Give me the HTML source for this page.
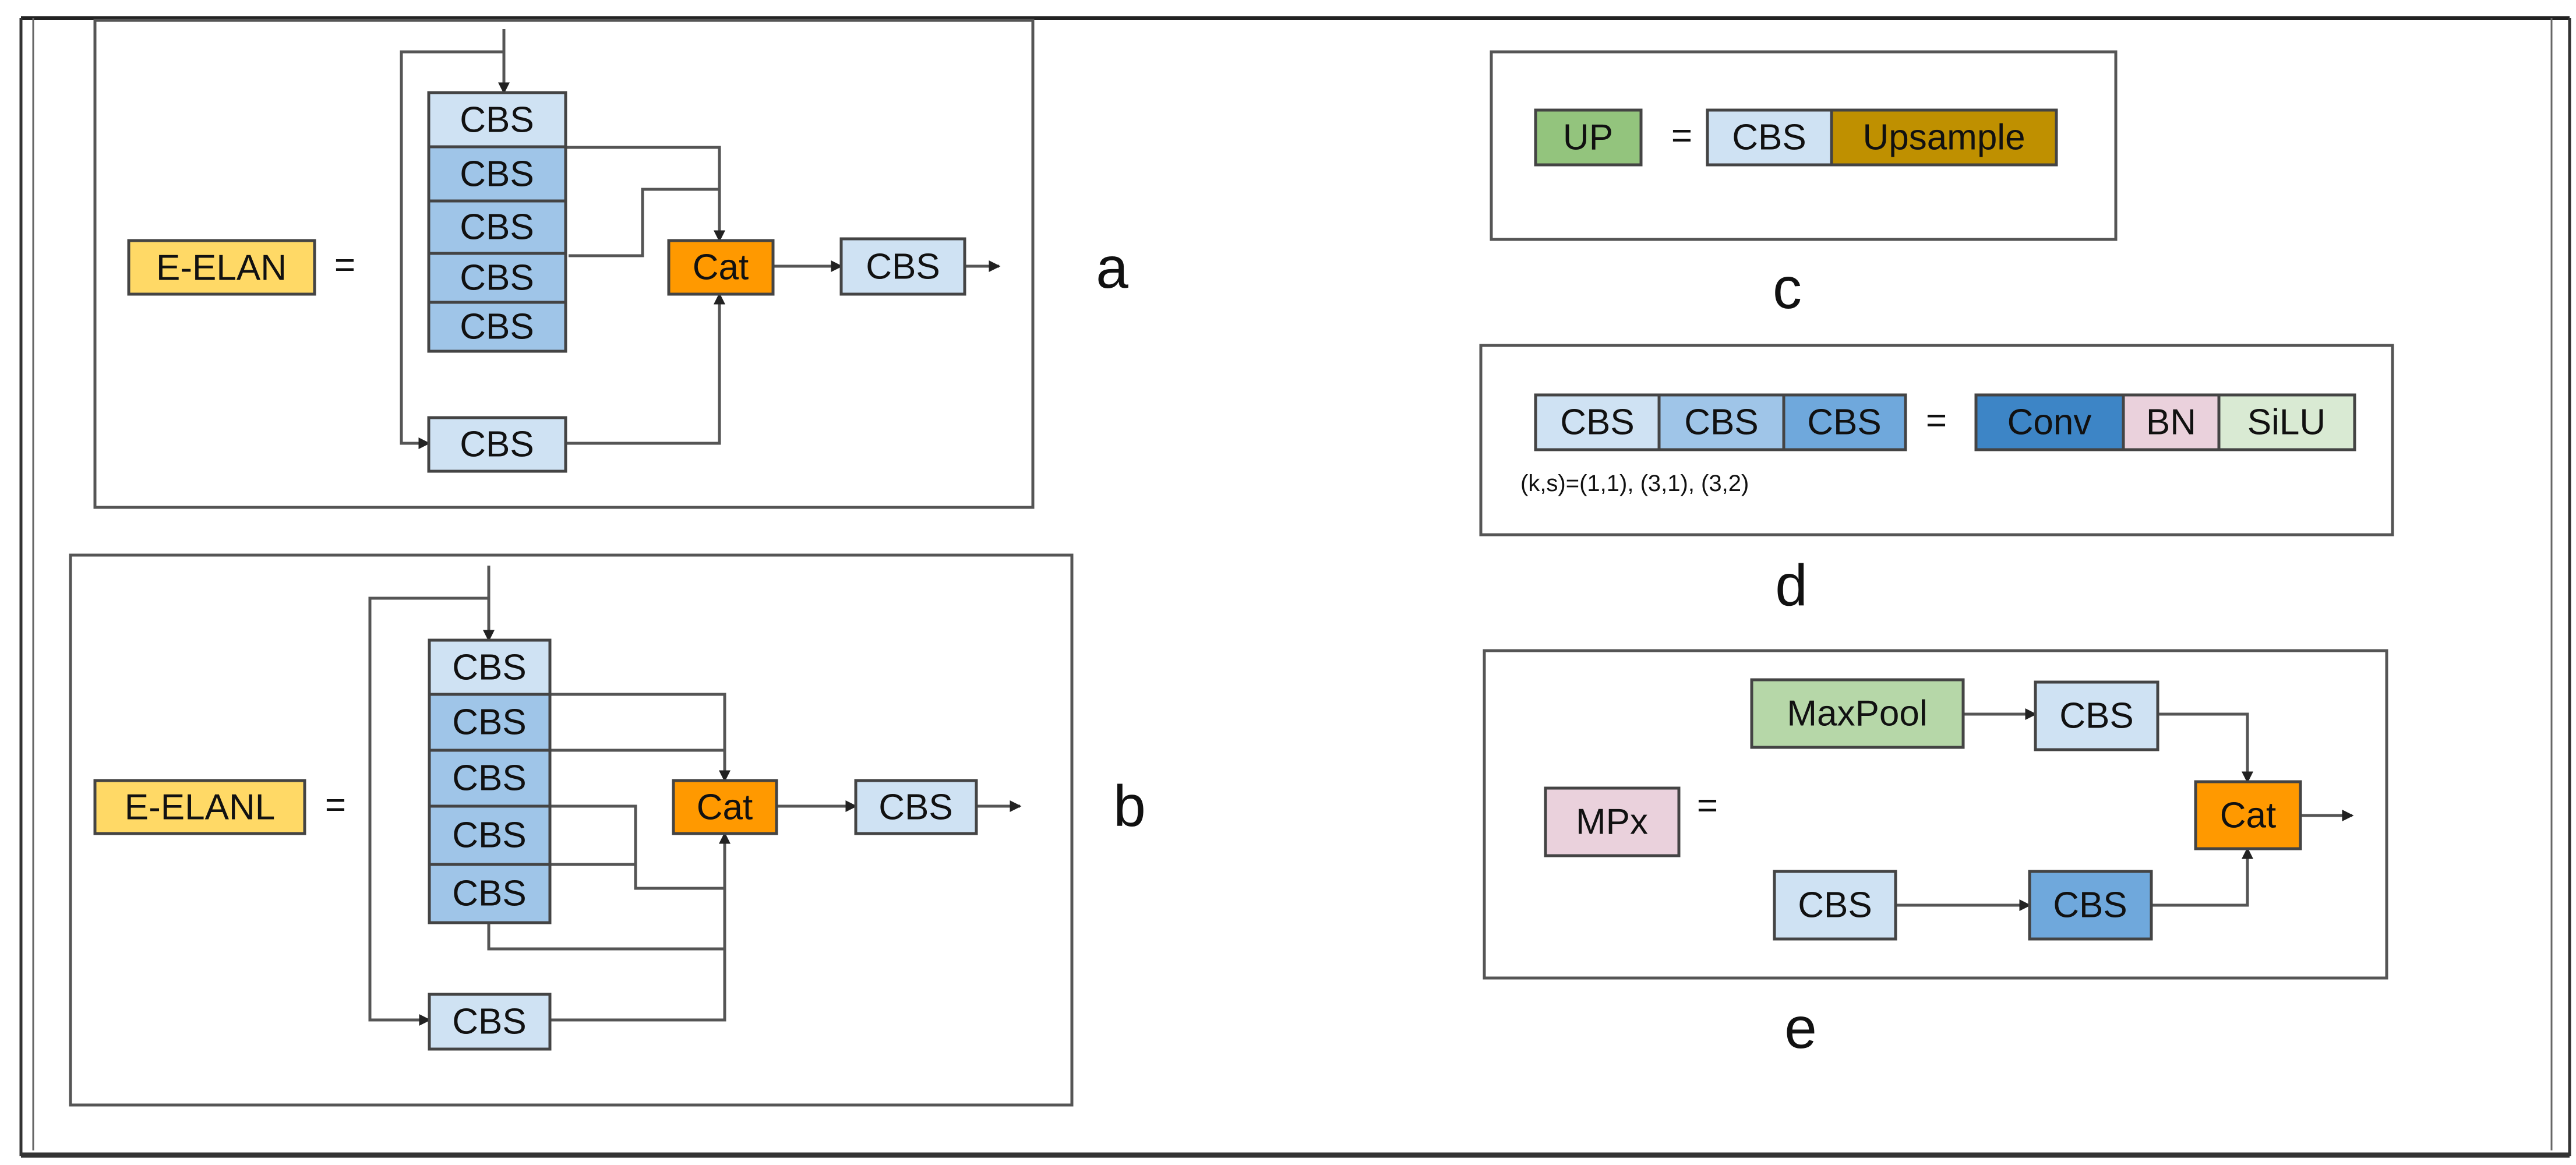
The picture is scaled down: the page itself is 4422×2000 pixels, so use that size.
<!DOCTYPE html>
<html><head><meta charset="utf-8"><style>
html,body{margin:0;padding:0;background:#fff;}
svg{display:block;}
text{font-family:"Liberation Sans",sans-serif;fill:#111;}
</style></head><body>
<svg width="4422" height="2000" viewBox="0 0 4422 2000" xmlns="http://www.w3.org/2000/svg">
<defs>
<marker id="ar" markerWidth="4" markerHeight="4" refX="3.5" refY="2" orient="auto" markerUnits="strokeWidth">
<path d="M0,0 L4,2 L0,4 z" fill="#222"/></marker>
</defs>
<line x1="36" y1="31" x2="4411" y2="31" stroke="#222" stroke-width="6"/>
<line x1="36" y1="31" x2="36" y2="1985" stroke="#333" stroke-width="5"/>
<line x1="57" y1="31" x2="57" y2="1975" stroke="#666" stroke-width="3"/>
<line x1="4380" y1="31" x2="4380" y2="1975" stroke="#666" stroke-width="3"/>
<line x1="4411" y1="31" x2="4411" y2="1985" stroke="#333" stroke-width="5"/>
<line x1="36" y1="1983" x2="4411" y2="1983" stroke="#333" stroke-width="9"/>

<g stroke="#555" stroke-width="5" fill="none">
<rect x="163" y="35" width="1610" height="836"/>
<rect x="121" y="953" width="1719" height="944"/>
<rect x="2560" y="89" width="1072" height="322"/>
<rect x="2542" y="593" width="1565" height="325"/>
<rect x="2548" y="1117" width="1549" height="562"/>
</g>

<g stroke="#555" stroke-width="5" fill="none">
<polyline points="865,50 865,159" marker-end="url(#ar)"/>
<polyline points="865,89 689,89 689,761 736,761" marker-end="url(#ar)"/>
<polyline points="971,253 1235,253 1235,413" marker-end="url(#ar)"/>
<polyline points="976,439 1103,439 1103,325 1235,325"/>
<polyline points="971,761 1235,761 1235,505" marker-end="url(#ar)"/>
<polyline points="1327,457 1444,457" marker-end="url(#ar)"/>
<polyline points="1656,457 1715,457" marker-end="url(#ar)"/>
</g>
<g stroke="#555" stroke-width="5" fill="none">
<polyline points="839,971 839,1099" marker-end="url(#ar)"/>
<polyline points="839,1027 635,1027 635,1751 737,1751" marker-end="url(#ar)"/>
<polyline points="944,1192 1244,1192 1244,1340" marker-end="url(#ar)"/>
<polyline points="944,1288 1244,1288"/>
<polyline points="944,1384 1091,1384 1091,1525 1244,1525"/>
<polyline points="944,1484 1091,1484"/>
<polyline points="839,1584 839,1629 1244,1629"/>
<polyline points="944,1751 1244,1751 1244,1431" marker-end="url(#ar)"/>
<polyline points="1333,1384 1469,1384" marker-end="url(#ar)"/>
<polyline points="1676,1384 1751,1384" marker-end="url(#ar)"/>
</g>
<g stroke="#555" stroke-width="5" fill="none">
<polyline points="3370,1226 3494,1226" marker-end="url(#ar)"/>
<polyline points="3704,1226 3858,1226 3858,1342" marker-end="url(#ar)"/>
<polyline points="3254,1554 3484,1554" marker-end="url(#ar)"/>
<polyline points="3693,1554 3858,1554 3858,1457" marker-end="url(#ar)"/>
<polyline points="3949,1400 4038,1400" marker-end="url(#ar)"/>
</g>

<g stroke="#444" stroke-width="5">
<rect x="221" y="413" width="319" height="92" fill="#ffd966"/>
<rect x="736" y="159" width="235" height="93" fill="#cfe2f3"/>
<rect x="736" y="252" width="235" height="93" fill="#9fc5e8"/>
<rect x="736" y="345" width="235" height="90" fill="#9fc5e8"/>
<rect x="736" y="435" width="235" height="84" fill="#9fc5e8"/>
<rect x="736" y="519" width="235" height="84" fill="#9fc5e8"/>
<rect x="736" y="717" width="235" height="92" fill="#cfe2f3"/>
<rect x="1148" y="413" width="179" height="92" fill="#ff9900"/>
<rect x="1444" y="410" width="212" height="95" fill="#cfe2f3"/>
<rect x="163" y="1340" width="360" height="91" fill="#ffd966"/>
<rect x="737" y="1099" width="207" height="93" fill="#cfe2f3"/>
<rect x="737" y="1192" width="207" height="96" fill="#9fc5e8"/>
<rect x="737" y="1288" width="207" height="96" fill="#9fc5e8"/>
<rect x="737" y="1384" width="207" height="100" fill="#9fc5e8"/>
<rect x="737" y="1484" width="207" height="100" fill="#9fc5e8"/>
<rect x="737" y="1707" width="207" height="94" fill="#cfe2f3"/>
<rect x="1156" y="1340" width="177" height="91" fill="#ff9900"/>
<rect x="1469" y="1340" width="207" height="91" fill="#cfe2f3"/>
<rect x="2636" y="189" width="181" height="94" fill="#93c47d"/>
<rect x="2931" y="189" width="213" height="94" fill="#cfe2f3"/>
<rect x="3144" y="189" width="386" height="94" fill="#bf9000"/>
<rect x="2636" y="678" width="212" height="94" fill="#cfe2f3"/>
<rect x="2848" y="678" width="214" height="94" fill="#9fc5e8"/>
<rect x="3062" y="678" width="209" height="94" fill="#6fa8dc"/>
<rect x="3392" y="678" width="253" height="94" fill="#3d85c6"/>
<rect x="3645" y="678" width="164" height="94" fill="#ead1dc"/>
<rect x="3809" y="678" width="233" height="94" fill="#d9ead3"/>
<rect x="3007" y="1167" width="363" height="116" fill="#b6d7a8"/>
<rect x="3494" y="1171" width="210" height="116" fill="#cfe2f3"/>
<rect x="3769" y="1342" width="180" height="115" fill="#ff9900"/>
<rect x="2653" y="1353" width="229" height="116" fill="#ead1dc"/>
<rect x="3046" y="1496" width="208" height="116" fill="#cfe2f3"/>
<rect x="3484" y="1496" width="209" height="116" fill="#6fa8dc"/>
</g>

<g font-size="62" text-anchor="middle" dominant-baseline="central">
<text x="380" y="460">E-ELAN</text>
<text x="592" y="455">=</text>
<text x="853" y="206">CBS</text>
<text x="853" y="299">CBS</text>
<text x="853" y="390">CBS</text>
<text x="853" y="477">CBS</text>
<text x="853" y="561">CBS</text>
<text x="853" y="763">CBS</text>
<text x="1237" y="459">Cat</text>
<text x="1550" y="458">CBS</text>
<text x="343" y="1386">E-ELANL</text>
<text x="576" y="1382">=</text>
<text x="840" y="1146">CBS</text>
<text x="840" y="1240">CBS</text>
<text x="840" y="1336">CBS</text>
<text x="840" y="1434">CBS</text>
<text x="840" y="1534">CBS</text>
<text x="840" y="1754">CBS</text>
<text x="1244" y="1386">Cat</text>
<text x="1572" y="1386">CBS</text>
<text x="2726" y="236">UP</text>
<text x="2887" y="233">=</text>
<text x="3037" y="236">CBS</text>
<text x="3337" y="236">Upsample</text>
<text x="2742" y="725">CBS</text>
<text x="2955" y="725">CBS</text>
<text x="3166" y="725">CBS</text>
<text x="3324" y="722">=</text>
<text x="3518" y="725">Conv</text>
<text x="3727" y="725">BN</text>
<text x="3925" y="725">SiLU</text>
<text x="3188" y="1225">MaxPool</text>
<text x="3599" y="1229">CBS</text>
<text x="3859" y="1400">Cat</text>
<text x="2767" y="1411">MPx</text>
<text x="2931" y="1383">=</text>
<text x="3150" y="1554">CBS</text>
<text x="3588" y="1554">CBS</text>
</g>
<text x="2610" y="830" font-size="40" text-anchor="start" dominant-baseline="central">(k,s)=(1,1), (3,1), (3,2)</text>
<g font-size="100" text-anchor="middle" dominant-baseline="central">
<text x="1909" y="460">a</text>
<text x="1939" y="1384">b</text>
<text x="3068" y="495">c</text>
<text x="3075" y="1005">d</text>
<text x="3091" y="1765">e</text>
</g>
</svg>
</body></html>
